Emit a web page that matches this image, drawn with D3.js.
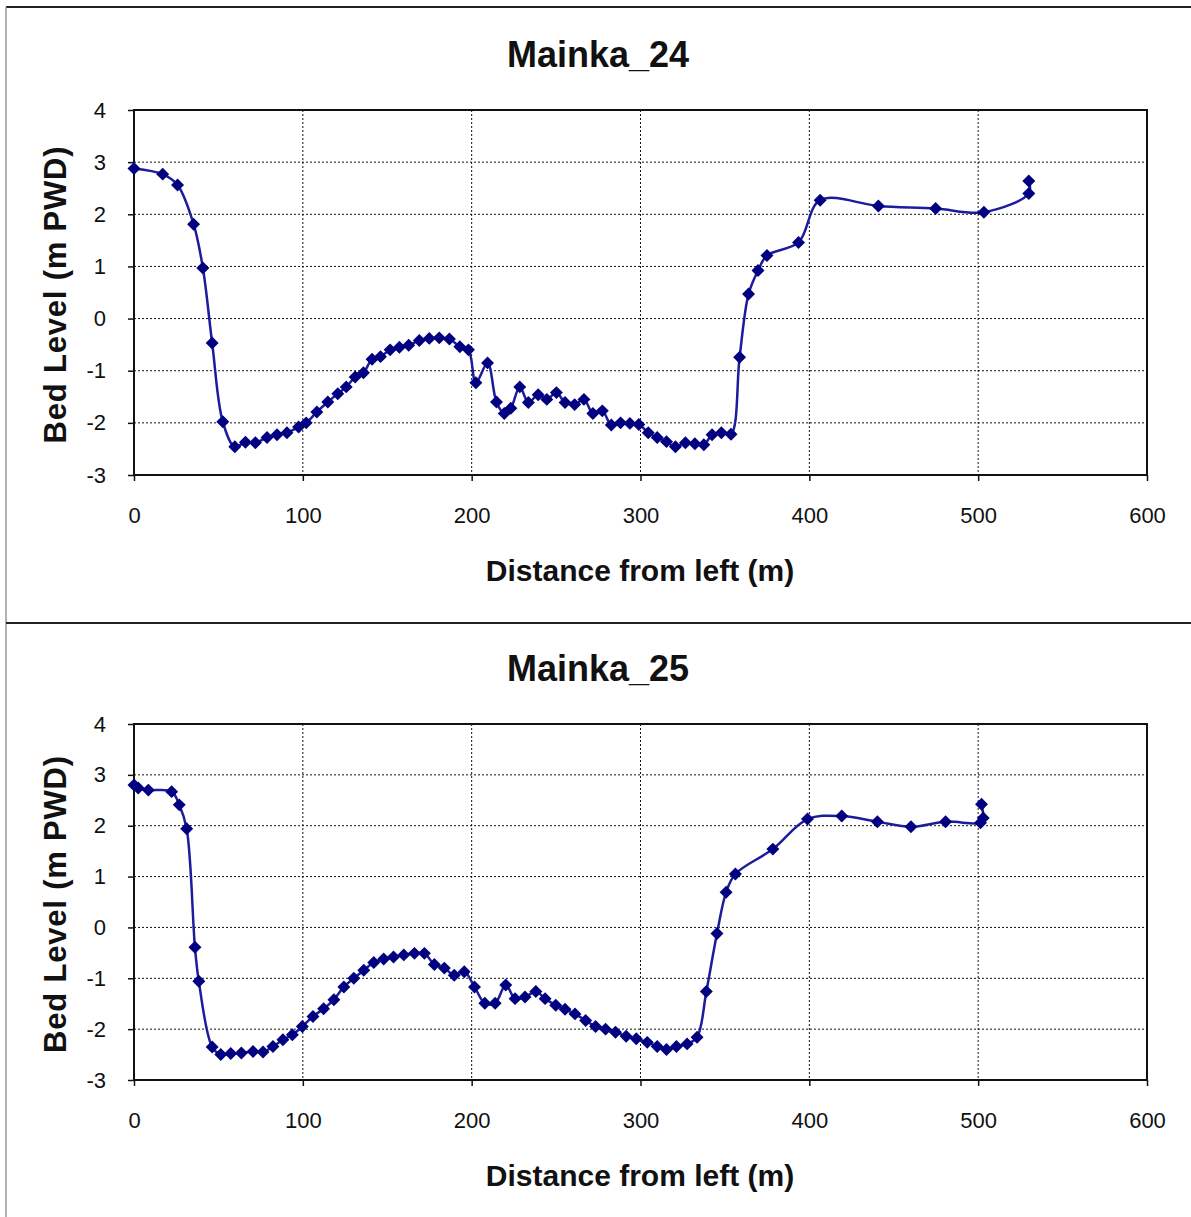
<!DOCTYPE html>
<html>
<head>
<meta charset="utf-8">
<script src="https://cdn.jsdelivr.net/npm/d3@7"></script>
<style>
  html, body { margin: 0; padding: 0; background: #fff; }
  svg { display: block; font-family: "Liberation Sans", Arial, sans-serif; }
</style>
</head>
<body>
<div id="chart"></div>
<script>
// Two river cross-sections, bed level vs distance from left bank.

const xTicks = [0, 100, 200, 300, 400, 500, 600];
const yTicks = [-3, -2, -1, 0, 1, 2, 3, 4];

const titles = ["Mainka_24", "Mainka_25"];

const dist24 = [0, 17, 25.8, 35.3, 40.8, 46.3, 52.6, 59.7, 66, 71.9, 78.8, 84.7, 90.6, 97.5, 102,
  108.3, 114.8, 120.7, 125.7, 131, 135.9, 141, 146, 151.7, 157.2, 162.7, 169, 174.9, 180.8, 186.8,
  193, 198.1, 202.5, 209.4, 214.7, 219.3, 223.2, 228.5, 233.6, 239.4, 244.5, 250.2, 255.3, 261,
  266.5, 271.8, 277.4, 282.7, 288.2, 293.7, 299, 304.6, 309.9, 315.4, 320.7, 326.6, 332.2, 337.5,
  342.4, 347.9, 353.6, 358.7, 364, 369.6, 374.9, 393.6, 406.4, 440.9, 474.8, 503.4, 530, 530];
const level24 = [2.88, 2.77, 2.56, 1.81, 0.97, -0.47, -1.98, -2.46, -2.37, -2.38, -2.28, -2.23, -2.19, -2.08, -2.0,
  -1.79, -1.6, -1.44, -1.31, -1.12, -1.04, -0.78, -0.73, -0.6, -0.55, -0.51, -0.42, -0.38, -0.37, -0.39,
  -0.54, -0.6, -1.23, -0.85, -1.6, -1.82, -1.72, -1.31, -1.61, -1.46, -1.55, -1.42, -1.61, -1.65,
  -1.55, -1.82, -1.77, -2.04, -2.0, -2.01, -2.03, -2.19, -2.28, -2.36, -2.46, -2.38, -2.4, -2.42,
  -2.23, -2.19, -2.22, -0.74, 0.47, 0.92, 1.21, 1.46, 2.27, 2.16, 2.11, 2.04, 2.4, 2.64];

const dist25 = [0, 2.5, 8.5, 22.3, 26.8, 31.2, 36.1, 38.4, 46.3, 51.4, 57.3, 63.6, 70.5, 76.4, 82.3,
  88.2, 93.8, 99.7, 106, 112.3, 118.4, 124.3, 130.2, 136.1, 142, 147.9, 153.7, 159.8, 166.1, 172,
  177.9, 183.8, 189.7, 195.6, 201.7, 207.8, 213.9, 220.2, 225.7, 231.6, 238, 243.5, 249.8, 255.3,
  261.2, 267.5, 273.4, 279.3, 285.2, 291.5, 297.5, 304, 309.9, 315.4, 321.3, 327.6, 333.5, 339,
  345.3, 350.7, 356.2, 378.4, 398.9, 419.2, 440.3, 460.2, 480.7, 501.4, 503, 502];
const level25 = [2.8, 2.74, 2.7, 2.67, 2.41, 1.94, -0.39, -1.06, -2.35, -2.5, -2.48, -2.47, -2.44, -2.45, -2.34,
  -2.21, -2.11, -1.95, -1.75, -1.6, -1.42, -1.17, -1.0, -0.84, -0.69, -0.62, -0.58, -0.54, -0.51, -0.51,
  -0.73, -0.8, -0.94, -0.87, -1.17, -1.49, -1.49, -1.13, -1.4, -1.37, -1.26, -1.4, -1.53, -1.61,
  -1.7, -1.83, -1.95, -2.0, -2.06, -2.14, -2.19, -2.26, -2.34, -2.4, -2.34, -2.29, -2.16, -1.26,
  -0.12, 0.69, 1.05, 1.54, 2.13, 2.19, 2.08, 1.98, 2.08, 2.06, 2.15, 2.42];

const W = 1191, H = 1217;
const LINE = "#1c1c9c", MARK = "#000080";

const svg = d3.select("#chart").append("svg")
  .attr("width", W).attr("height", H)
  .attr("viewBox", `0 0 ${W} ${H}`);

// outer frame + divider between the two panels
svg.append("line").attr("x1", 6).attr("x2", W).attr("y1", 7).attr("y2", 7)
  .attr("stroke", "#222").attr("stroke-width", 2);
svg.append("line").attr("x1", 6).attr("x2", 6).attr("y1", 7).attr("y2", H)
  .attr("stroke", "#999").attr("stroke-width", 1.5);
svg.append("line").attr("x1", 6).attr("x2", W).attr("y1", 623).attr("y2", 623)
  .attr("stroke", "#222").attr("stroke-width", 2);

function panel(top, bottom, title, xs, ys) {
  const m = { left: 134, right: 1147 };
  const x = d3.scaleLinear().domain([0, 600]).range([m.left, m.right]);
  const y = d3.scaleLinear().domain([-3, 4]).range([bottom, top]);
  const g = svg.append("g");

  // dotted gridlines
  g.append("g").selectAll("line").data(yTicks.filter((d) => d > -3 && d < 4)).join("line")
    .attr("x1", m.left).attr("x2", m.right)
    .attr("y1", (d) => y(d)).attr("y2", (d) => y(d))
    .attr("stroke", "#111").attr("stroke-dasharray", "2,2");
  g.append("g").selectAll("line").data(xTicks.filter((d) => d > 0 && d < 600)).join("line")
    .attr("x1", (d) => x(d)).attr("x2", (d) => x(d))
    .attr("y1", top).attr("y2", bottom)
    .attr("stroke", "#111").attr("stroke-dasharray", "2,2");

  // plot border
  g.append("rect")
    .attr("x", m.left).attr("y", top)
    .attr("width", m.right - m.left).attr("height", bottom - top)
    .attr("fill", "none").attr("stroke", "#111").attr("stroke-width", 2);

  // plain hyphen minus, like the original
  const fmt = (d) => String(d);

  g.append("g")
    .attr("transform", `translate(${m.left},0)`)
    .call(d3.axisLeft(y).tickValues(yTicks).tickSize(6).tickPadding(22).tickFormat(fmt))
    .call((a) => a.select(".domain").remove())
    .call((a) => a.selectAll("line").attr("stroke", "#111").attr("stroke-width", 1.5))
    .selectAll("text").attr("fill", "#111").style("font-size", "22px")
    .style("font-family", "'Liberation Sans', Arial, sans-serif");

  g.append("g")
    .attr("transform", `translate(0,${bottom})`)
    .call(d3.axisBottom(x).tickValues(xTicks).tickSize(6).tickPadding(26).tickFormat(fmt))
    .call((a) => a.select(".domain").remove())
    .call((a) => a.selectAll("line").attr("stroke", "#111").attr("stroke-width", 1.5))
    .selectAll("text").attr("fill", "#111").style("font-size", "22px")
    .style("font-family", "'Liberation Sans', Arial, sans-serif");

  g.append("text")
    .attr("x", 598).attr("y", top - 43)
    .attr("text-anchor", "middle").attr("fill", "#111")
    .style("font-size", "36px").style("font-weight", "bold")
    .text(title);

  g.append("text")
    .attr("x", 640).attr("y", bottom + 106)
    .attr("text-anchor", "middle").attr("fill", "#111")
    .style("font-size", "30px").style("font-weight", "bold")
    .text("Distance from  left (m)");

  g.append("text")
    .attr("transform", `translate(66,${(top + bottom) / 2 + 2}) rotate(-90)`)
    .attr("text-anchor", "middle").attr("fill", "#111")
    .style("font-size", "31px").style("font-weight", "bold")
    .style("letter-spacing", "0.8px")
    .text("Bed Level (m PWD)");

  const pts = xs.map((d, i) => [d, ys[i]]);
  const line = d3.line()
    .x((d) => x(d[0])).y((d) => y(d[1]))
    .curve(d3.curveCatmullRom.alpha(0.5));
  g.append("path").datum(pts)
    .attr("fill", "none").attr("stroke", LINE).attr("stroke-width", 2.5)
    .attr("d", line);

  const diamond = d3.symbol(d3.symbolSquare, 84);
  g.append("g").selectAll("path").data(pts).join("path")
    .attr("transform", (d) => `translate(${x(d[0])},${y(d[1])}) rotate(45)`)
    .attr("d", diamond)
    .attr("fill", MARK);
}

panel(110, 475, titles[0], dist24, level24);
panel(724, 1080, titles[1], dist25, level25);
</script>
</body>
</html>
